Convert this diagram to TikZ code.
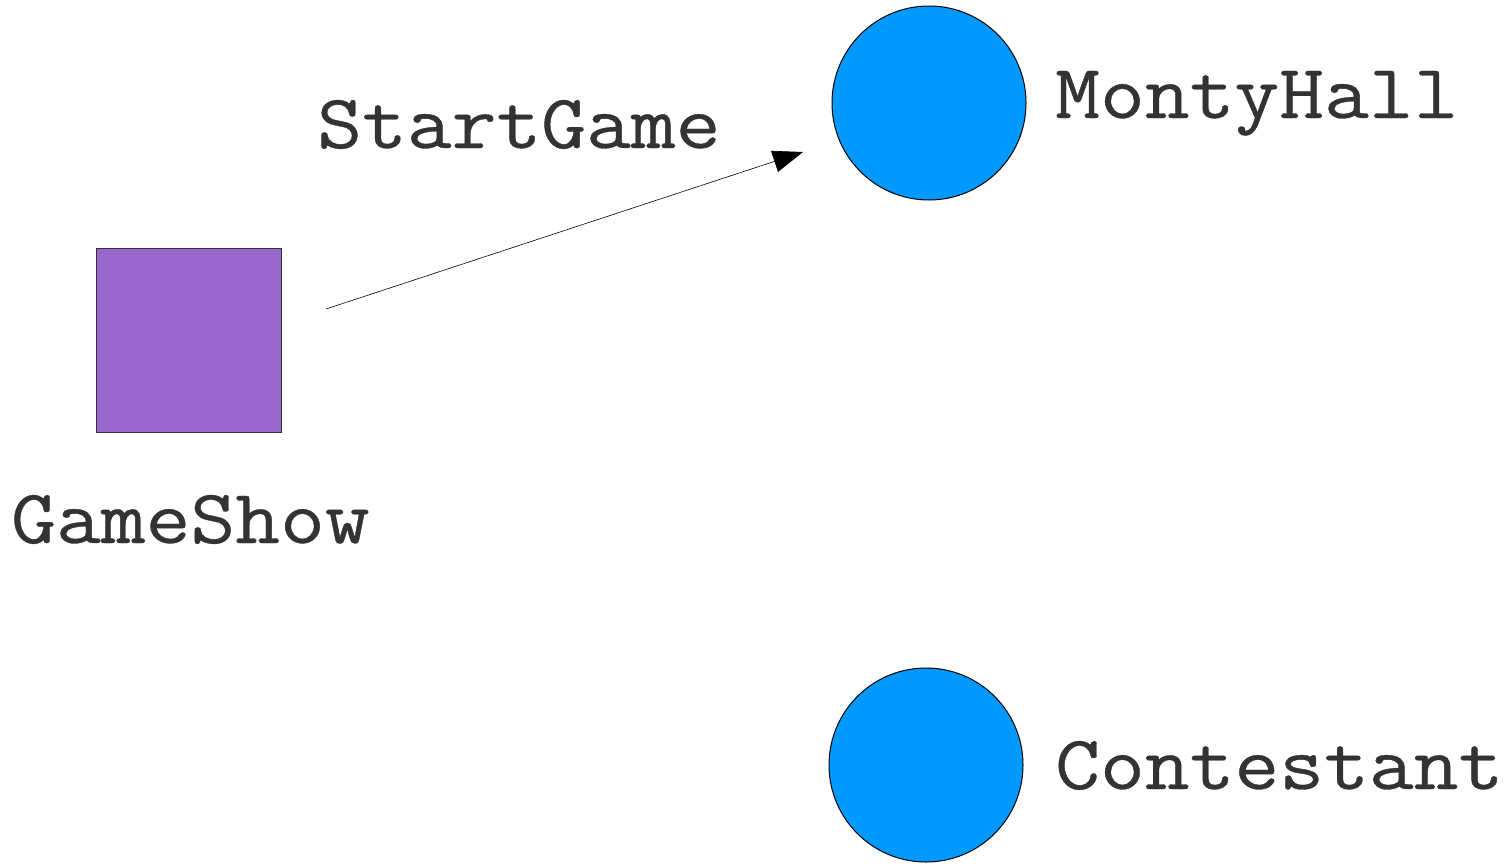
\documentclass[tikz,border=0pt]{standalone}
\usepackage{fontspec}
\newfontfamily\labelfont{Latin Modern Mono}[FakeBold=0.45]
\usetikzlibrary{arrows.meta}
\definecolor{labelgray}{HTML}{333333}
\definecolor{objpurple}{HTML}{9966CC}
\definecolor{actorblue}{HTML}{0099FF}
\tikzset{
  lbl/.style={anchor=base west, inner sep=0pt, text=labelgray,
    xscale=1.13, transform shape,
    font=\labelfont\bfseries\fontsize{77}{77}\selectfont},
  actor/.style={circle, draw=black, line width=1pt, fill=actorblue,
    minimum size=194pt, inner sep=0pt},
  objbox/.style={rectangle, draw=black!80, line width=1pt, fill=objpurple,
    minimum width=185pt, minimum height=184pt, inner sep=0pt},
  msg/.style={line width=0.6pt, -{Triangle[length=30pt,width=22pt]}}
}
\begin{document}
\begin{tikzpicture}[x=1pt,y=-1pt]
\useasboundingbox (0,0) rectangle (1507,865);
% participants
\node[objbox] (gameshow) at (188.5,340) {};
\node[actor] (monty) at (929,103) {};
\node[actor] (contestant) at (926,765) {};
% labels
\node[lbl] (gameshowlbl) at (11,543) {GameShow};
\node[lbl] (montylbl) at (1055,118) {MontyHall};
\node[lbl] (contestantlbl) at (1055,789) {Contestant};
\node[lbl] (startlbl) at (317,148) {StartGame};
% message
\coordinate (msgstart) at (326,309);
\coordinate (msgend) at (803,152);
\draw[msg] (msgstart) -- (msgend);
\end{tikzpicture}
\end{document}
